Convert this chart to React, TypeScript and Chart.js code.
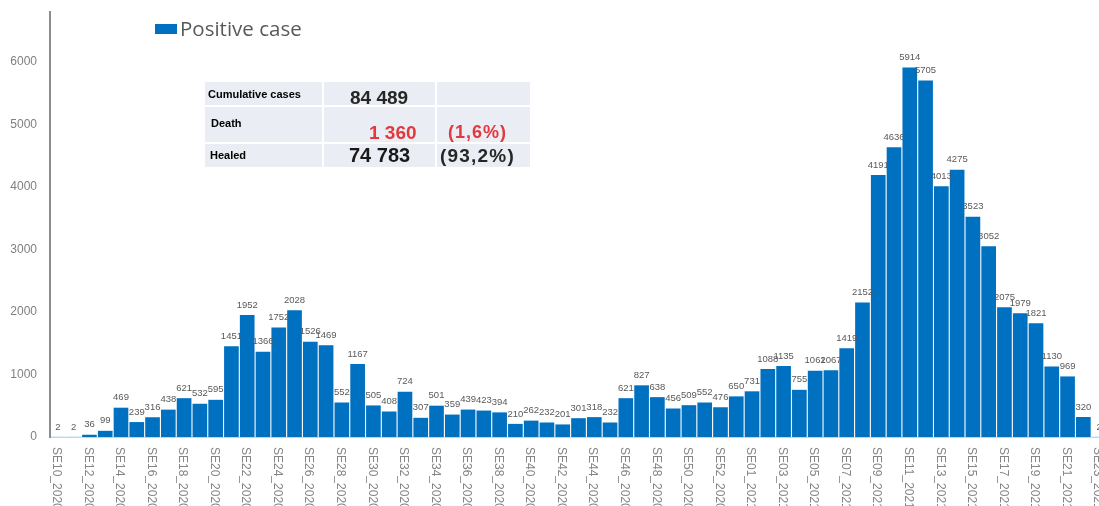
import React, { useEffect, useRef } from 'react';
import { Chart, registerables } from 'chart.js';

Chart.register(...registerables);

const categories = [
  'SE10_2020', 'SE11_2020', 'SE12_2020', 'SE13_2020', 'SE14_2020', 'SE15_2020', 'SE16_2020', 'SE17_2020',
  'SE18_2020', 'SE19_2020', 'SE20_2020', 'SE21_2020', 'SE22_2020', 'SE23_2020', 'SE24_2020', 'SE25_2020',
  'SE26_2020', 'SE27_2020', 'SE28_2020', 'SE29_2020', 'SE30_2020', 'SE31_2020', 'SE32_2020', 'SE33_2020',
  'SE34_2020', 'SE35_2020', 'SE36_2020', 'SE37_2020', 'SE38_2020', 'SE39_2020', 'SE40_2020', 'SE41_2020',
  'SE42_2020', 'SE43_2020', 'SE44_2020', 'SE45_2020', 'SE46_2020', 'SE47_2020', 'SE48_2020', 'SE49_2020',
  'SE50_2020', 'SE51_2020', 'SE52_2020', 'SE53_2020',
  'SE01_2021', 'SE02_2021', 'SE03_2021', 'SE04_2021', 'SE05_2021', 'SE06_2021', 'SE07_2021', 'SE08_2021',
  'SE09_2021', 'SE10_2021', 'SE11_2021', 'SE12_2021', 'SE13_2021', 'SE14_2021', 'SE15_2021', 'SE16_2021',
  'SE17_2021', 'SE18_2021', 'SE19_2021', 'SE20_2021', 'SE21_2021', 'SE22_2021', 'SE23_2021',
];

const positiveCases = [
  2, 2, 36, 99, 469, 239, 316, 438, 621, 532,
  595, 1451, 1952, 1366, 1752, 2028, 1526, 1469, 552, 1167,
  505, 408, 724, 307, 501, 359, 439, 423, 394, 210,
  262, 232, 201, 301, 318, 232, 621, 827, 638, 456,
  509, 552, 476, 650, 731, 1088, 1135, 755, 1062, 1067,
  1419, 2152, 4191, 4636, 5914, 5705, 4013, 4275, 3523, 3052,
  2075, 1979, 1821, 1130, 969, 320, 2,
];

const yTickValues = [0, 1000, 2000, 3000, 4000, 5000, 6000];
const seriesName = 'Positive case';

const summaryLabels = ['Cumulative cases', 'Death', 'Healed'];
const summaryValues = ['84 489', '1 360', '74 783'];
const summaryShares = ['', '(1,6%)', '(93,2%)'];

const BAR_COLOR = '#0070C0';

export default function App() {
  const canvasRef = useRef<HTMLCanvasElement | null>(null);

  useEffect(() => {
    const canvas = canvasRef.current;
    if (!canvas) return;

    const valueLabels = {
      id: 'valueLabels',
      afterDatasetsDraw(chart: any) {
        const ctx = chart.ctx;
        const meta = chart.getDatasetMeta(0);
        ctx.save();
        ctx.font = '9.5px "Liberation Sans", Arial, sans-serif';
        ctx.fillStyle = '#595959';
        ctx.textAlign = 'center';
        ctx.textBaseline = 'middle';
        meta.data.forEach((bar: any, i: number) => {
          ctx.fillText(String(positiveCases[i]), bar.x, bar.y - 10);
        });
        ctx.restore();
      },
    };

    const rotatedTicks = {
      id: 'rotatedTicks',
      afterDraw(chart: any) {
        const ctx = chart.ctx;
        const xs = chart.scales.x;
        ctx.save();
        ctx.font = '12px "Liberation Sans", Arial, sans-serif';
        ctx.fillStyle = '#858585';
        ctx.textAlign = 'left';
        ctx.textBaseline = 'middle';
        categories.forEach((c, i) => {
          if (i % 2 !== 0) return;
          const x = xs.getPixelForValue(i) - 1.5;
          ctx.save();
          ctx.translate(x, chart.chartArea.bottom + 10);
          ctx.rotate(Math.PI / 2);
          ctx.fillText(c, 0, 0);
          ctx.restore();
        });
        ctx.restore();
      },
    };

    const chart = new Chart(canvas, {
      type: 'bar',
      data: {
        labels: categories,
        datasets: [
          {
            label: seriesName,
            data: positiveCases,
            backgroundColor: BAR_COLOR,
            borderWidth: 0,
            barPercentage: 0.93,
            categoryPercentage: 1,
          },
        ],
      },
      options: {
        responsive: false,
        animation: false,
        layout: { padding: { left: 0, right: 13, top: 12, bottom: 0 } },
        plugins: {
          legend: { display: false },
          tooltip: { enabled: false },
        },
        scales: {
          x: {
            grid: { display: false, drawTicks: false },
            border: { display: true, color: '#c9d3e0', width: 1 },
            ticks: { display: false },
            afterFit: (s: any) => {
              s.height = 69;
              s.paddingLeft = 0;
              s.paddingRight = 0;
            },
          },
          y: {
            min: 0,
            max: 6800,
            grid: { display: false, drawTicks: false },
            border: { display: true, color: '#8c8c8c', width: 2 },
            ticks: {
              stepSize: 1000,
              padding: 13,
              color: '#7f7f7f',
              font: { size: 12, family: '"Liberation Sans", Arial, sans-serif' },
              callback: (v: any) => String(v),
            },
            afterBuildTicks: (s: any) => {
              s.ticks = yTickValues.map((v) => ({ value: v }));
            },
            afterFit: (s: any) => {
              s.width = 50;
              s.paddingTop = 0;
              s.paddingBottom = 0;
            },
          },
        },
      },
      plugins: [valueLabels, rotatedTicks],
    });

    return () => chart.destroy();
  }, []);

  const cellBg = '#eaedf3';
  const colX = [205, 323, 436, 530];
  const rowY = [82, 106, 143, 167];

  const cells: React.ReactNode[] = [];
  for (let r = 0; r < 3; r++) {
    for (let c = 0; c < 3; c++) {
      cells.push(
        <div
          key={`c${r}${c}`}
          style={{
            position: 'absolute',
            left: colX[c] + (c > 0 ? 1 : 0),
            top: rowY[r] + (r > 0 ? 1 : 0),
            width: colX[c + 1] - colX[c] - (c > 0 ? 1 : 0) - (c < 2 ? 1 : 0),
            height: rowY[r + 1] - rowY[r] - (r > 0 ? 1 : 0) - (r < 2 ? 1 : 0),
            background: cellBg,
          }}
        />
      );
    }
  }

  const txt = (
    key: string,
    text: string,
    left: number,
    cy: number,
    size: number,
    color: string,
    spacing = 0
  ) => (
    <div
      key={key}
      style={{
        position: 'absolute',
        left,
        top: cy - size * 0.49,
        fontFamily: '"Liberation Sans", Arial, sans-serif',
        fontWeight: 'bold',
        fontSize: size,
        lineHeight: 1,
        letterSpacing: spacing,
        color,
        whiteSpace: 'nowrap',
      }}
    >
      {text}
    </div>
  );

  return (
    <div
      style={{
        position: 'absolute',
        left: 0,
        top: 0,
        width: 1099,
        height: 506,
        overflow: 'hidden',
        background: '#ffffff',
      }}
    >
      <canvas
        ref={canvasRef}
        width={1120}
        height={506}
        style={{ position: 'absolute', left: 0, top: 0, width: 1120, height: 506 }}
      />
      <div
        style={{
          position: 'absolute',
          left: 155,
          top: 24,
          width: 22,
          height: 10,
          background: BAR_COLOR,
        }}
      />
      <div
        style={{
          position: 'absolute',
          left: 180,
          top: 18,
          fontFamily: '"Open Sans", sans-serif',
          fontSize: 20.5,
          lineHeight: 1,
          color: '#595959',
          whiteSpace: 'nowrap',
        }}
      >
        {seriesName}
      </div>
      {cells}
      {txt('l0', summaryLabels[0], 208, 94, 11, '#000000')}
      {txt('l1', summaryLabels[1], 211, 123, 11, '#000000')}
      {txt('l2', summaryLabels[2], 210, 155, 11, '#000000')}
      {txt('v0', summaryValues[0], 350, 97, 19, '#262626')}
      {txt('v1', summaryValues[1], 369, 132, 19, '#e0393e')}
      {txt('v2', summaryValues[2], 349, 155, 20, '#1a1a1a')}
      {txt('s1', summaryShares[1], 448, 132, 18, '#e0393e', 1)}
      {txt('s2', summaryShares[2], 440, 155, 19, '#262626', 1.2)}
    </div>
  );
}
